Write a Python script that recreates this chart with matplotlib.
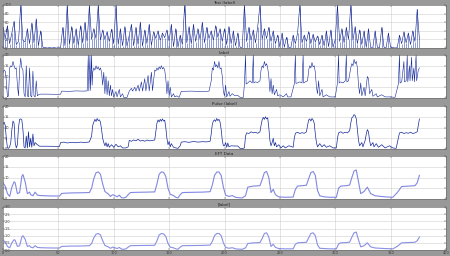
import matplotlib
matplotlib.use('Agg')
import matplotlib.pyplot as plt
import numpy as np

# panel titles (tiny in the reference, best guess)
titles = ["Test (label)", "Label", "Pulse (label)", "EFT Data", "[label]"]

# ---- panel 1: dense spikes, sampled every 2 units ----
test_y = [48, 22, 52, 10, 35,
          62, 8, 15, 100,
          18, 14, 45,
          10, 58, 12, 68, 5, 40,
          2, 1, 0, 1, 0, 1, 0, 0, 1,
          48, 5, 100, 8, 50, 10, 45, 6,
          52, 12, 60, 15, 100,
          20, 45, 22, 100, 18, 42, 20, 38, 15, 44,
          10, 100, 8, 45, 5, 50, 4, 30,
          55, 5, 48, 8, 60, 4, 42, 10, 55, 6, 38,
          22, 40, 18, 35, 24, 42, 16,
          55, 3, 45, 2, 30,
          8, 100, 12, 50, 10,
          55, 15, 45, 20, 60, 12, 48, 22, 40, 18, 52, 25, 45, 15,
          45, 8, 50, 10, 40, 5, 35,
          2, 1,
          100,
          15, 48, 18, 42, 12, 50, 100, 20, 45, 22, 48, 15, 40, 10,
          30, 3, 35, 2, 25, 1, 2,
          30, 10, 35, 100, 12, 30, 15, 38, 10, 32, 14, 28, 8, 30,
          5, 40, 3, 42, 2, 20,
          100, 15, 45, 12, 48, 20, 100, 18, 50, 10, 42, 8, 40,
          2, 45, 1, 2, 40, 2, 1, 48, 2, 1, 35, 2,
          1, 0, 1,
          30, 10, 38, 12, 35, 8, 40, 15, 90, 20]
test_x = np.arange(len(test_y)) * 2

# ---- panel 2 ----
label_x = [0, 1, 2, 3, 4, 5, 6, 7, 8, 9, 10, 11, 12, 13, 14, 15, 16, 17, 18, 19,
           20, 21, 22, 23, 24, 25, 26, 27, 28, 29, 30, 31, 32, 34,
           40, 50, 52, 53, 60, 66, 72, 76,
           77, 77.5, 78.5, 79, 80, 80.5,
           81, 82, 83, 84, 85, 86, 87, 88, 89,
           90, 91, 92, 93, 94, 95, 96, 97, 98, 99, 100,
           102, 103, 105, 106, 108, 109, 112,
           114, 116, 117, 119, 120, 122, 123, 125, 126, 128, 129, 131, 132, 134, 135, 137,
           138, 139, 140, 141, 142, 143, 144, 145, 146, 147,
           148, 149, 150, 151, 152, 154, 155, 157, 159,
           161, 170, 180, 186,
           188, 189, 190, 191, 192, 193, 194, 195, 196, 197, 198,
           199, 200, 201, 202, 204, 205, 207, 209, 212, 214, 217,
           218, 219, 219.5, 221, 223, 225, 226, 226.5, 228, 230, 232,
           233, 234, 235, 236, 237, 238, 239, 240,
           241, 242, 243, 244, 245, 247, 248, 250, 253, 256, 257, 260,
           263, 264, 264.5, 266, 268, 270, 271, 271.5, 273, 275,
           276, 277, 278, 279, 280, 281, 282, 283,
           284, 285, 286, 288, 289, 292, 295, 300,
           302, 303, 303.5, 305, 307, 309, 310, 310.5, 312,
           314, 315, 316, 317, 318, 319, 320, 321,
           322, 323, 324, 326, 327, 329, 330, 331, 333, 334, 337, 338, 342, 345, 350, 354,
           357, 358, 358.5, 360, 362, 362.5, 364, 365, 365.5, 367, 367.5, 369, 369.5,
           371, 371.5, 373, 373.5, 375, 376]
label_y = [11.8, 13, 12.5, 8, 0.5, 1, 14, 15, 14.5, 17, 15, 13.5, 14, 6, 1, 13, 18.5, 14, 13, 2,
           0.5, 15, 1, 0.5, 14, 1, 0.5, 12.5, 1, 0.5, 8, 1, 1.5, 1.8,
           1.8, 1.7, 1.8, 3.2, 3.1, 3.3, 3.2, 3.3,
           20, 3.3, 20, 3.5, 20, 6,
           12, 14, 13, 15, 13.5, 14.5, 13, 14, 12,
           6, 12, 2, 10, 1.5, 8, 1, 6, 1, 4, 0.5,
           3, 0.5, 4, 0.5, 2, 0.3, 0.3,
           3.2, 4.5, 3.2, 5, 3.2, 6, 3.2, 7.5, 3.2, 9, 3.3, 10.5, 3.3, 12, 3.4, 13,
           12.5, 14, 13, 14.5, 13.5, 15, 13.5, 14.2, 13, 9,
           2, 8, 1, 5, 0.5, 2, 0.5, 1, 0.3,
           3.1, 3.2, 3.0, 3.2,
           8, 14, 13, 17, 14.5, 15.5, 14, 17, 13.5, 14, 10,
           3, 1, 6, 0.5, 3, 0.8, 2, 1.2, 1.2, 0.3, 0.3,
           6.5, 20, 6.5, 7, 8, 7, 20, 7, 7.5, 7.2, 8,
           13, 15, 14, 17, 15, 16, 14, 10,
           3, 9, 2, 6, 1.5, 4, 1, 1.5, 0.5, 2, 0.5, 0.5,
           6.5, 20, 6.8, 7, 7.5, 7, 20, 7, 7.5, 8,
           13, 15, 14, 16.5, 14.5, 15, 12, 5,
           2, 8, 1, 4, 0.5, 1.5, 0.5, 0.5,
           7, 20, 7, 7.5, 7, 8, 20, 7.5, 8,
           14, 16, 15, 18, 16, 17, 14, 6,
           2, 7, 1, 5, 1, 10, 9, 2, 4, 0.8, 2, 0.5, 1.5, 0.5, 0.5, 0.3,
           6.5, 20, 7, 7.5, 17, 7.5, 8, 20, 7.5, 15, 8, 19, 8,
           14, 7.5, 20, 8, 13, 14]

# ---- panel 3 ----
pulse_x = [0, 1, 2, 3, 4, 5, 6, 7, 8, 9, 10, 11, 12, 13, 14, 15, 16, 17, 18, 19,
           20, 21, 22, 23, 24, 25, 26, 27, 28, 29, 31, 33, 38, 51,
           52, 55, 58, 62, 66, 70, 74, 78,
           80, 81, 82, 83, 84, 85, 86, 87, 88, 89, 90,
           91, 92, 93, 94, 95, 96, 98, 100, 102, 104, 106, 108, 111, 113,
           114, 116, 118, 120, 122, 124, 126, 128, 130, 132, 135, 137,
           138, 139, 140, 141, 142, 143, 144, 145, 146, 147, 148,
           149, 150, 151, 152, 154, 156, 158, 160,
           161, 164, 168, 172, 176, 180, 184, 187,
           188, 189, 190, 191, 192, 193, 194, 195, 196, 197, 198, 199,
           200, 201, 202, 203, 204, 206, 209, 212, 214, 216, 218,
           219, 220, 222, 224, 226, 228, 230, 232,
           233, 234, 235, 236, 237, 238, 239, 240, 241,
           242, 243, 244, 245, 246, 247, 249, 251, 253, 255, 258, 260, 262,
           263, 264, 266, 268, 270, 272, 274,
           275, 276, 277, 278, 279, 280, 281, 282, 283,
           284, 286, 288, 290, 292, 295, 298, 301,
           302, 303, 305, 307, 309, 311, 313,
           314, 315, 316, 317, 318, 319, 320, 321,
           322, 324, 325, 327, 328, 329, 330, 331, 332, 334, 335, 337, 339, 342, 345, 349, 352, 355,
           357, 358, 360, 362, 364, 366, 368, 370, 372, 374, 375, 376]
pulse_y = [11.5, 12.5, 11, 5, 0.5, 0.3, 1, 3, 9, 13, 12, 3, 0.5, 2, 10, 13.8, 14, 13.5, 9, 1,
           0.5, 6, 0.5, 8, 1, 5, 0.8, 7, 1.5, 3, 2, 1.3, 1.3, 1.2,
           3, 3.2, 2.8, 3.1, 2.9, 3.2, 3.0, 3.3,
           6, 11, 12.5, 13.8, 12.8, 14.2, 13.2, 13.6, 12.5, 9, 5,
           3, 1.5, 3, 1, 2.5, 0.8, 2, 0.8, 2.2, 1, 1.5, 0.5, 0.5, 1,
           4, 3.6, 4.2, 3.8, 4.5, 3.7, 4.0, 3.6, 4.2, 3.8, 4.0, 4.2,
           8, 12, 13.5, 12.6, 13.8, 12.9, 14, 13, 13.4, 10, 5,
           2, 3.5, 1, 2.5, 0.8, 0.5, 0.3, 1.5,
           3.2, 3.4, 3.1, 3.5, 3.2, 3.4, 3.3, 3.6,
           7, 11.5, 13, 13.6, 12.8, 14.2, 13.2, 13.8, 12.5, 9, 4, 1.5,
           1.5, 3, 0.8, 2.8, 1, 1.5, 1.4, 1.4, 0.3, 0.2, 0.5,
           6, 7.5, 7.2, 8, 7.5, 7.8, 7.3, 8,
           11, 13.5, 14.7, 13.8, 15, 14, 14.5, 10, 4,
           1.5, 3, 5, 1.5, 3, 1, 2, 0.5, 1.5, 0.5, 1.5, 1.2, 0.8,
           5, 7.3, 7.8, 7.2, 7.6, 7.3, 8,
           11, 13.5, 14, 13, 14.2, 13.5, 12, 7, 3,
           1, 2.5, 1, 2, 0.8, 1.5, 0.5, 0.5,
           5, 7.5, 8, 7.3, 7.8, 7.5, 8.5,
           12, 14.5, 15, 16, 15.5, 14, 9, 4,
           1.5, 3, 1, 4, 7, 9, 8, 4, 1.5, 3, 1, 2.5, 0.8, 2, 0.5, 1.5, 0.5, 0.3,
           5, 7.5, 7.8, 7.2, 7.6, 7.3, 7.8, 7.2, 7.5, 8, 11, 14]

# ---- panels 4 and 5: smooth curves on the same x ----
eft_x = [0, 2, 4, 6, 8, 10, 11, 13, 15, 17, 18, 20, 22, 24, 25, 27, 29, 31, 34, 38, 45, 51,
         53, 60, 70, 78, 80, 82, 84, 86, 88, 90, 92, 95, 97, 99, 101, 103, 105, 107, 109, 111, 113,
         115, 120, 130, 137, 139, 141, 143, 145, 147, 149, 151, 154, 156, 158, 160,
         162, 170, 180, 187, 189, 191, 193, 195, 197, 199, 201, 204, 207, 210, 213, 216, 219,
         221, 226, 232, 234, 236, 238, 240, 242, 244, 246, 249, 255, 262,
         264, 266, 270, 274, 276, 278, 280, 282, 284, 286, 290, 295, 301,
         303, 305, 310, 313, 315, 317, 319, 321, 323, 326, 329, 332, 336, 345, 352,
         356, 360, 366, 372, 374, 376]
eft_y = [7.5, 6.0, 2.5, 1.2, 5.5, 8.0, 7.5, 2.5, 3.0, 10.5, 11.4, 8.0, 2.5, 3.2, 2.0, 1.5, 3.2, 1.8, 1.6, 1.5, 1.4, 1.4,
         2.6, 2.8, 2.9, 3.0, 5.0, 9.5, 12.2, 12.6, 11.5, 7.0, 3.5, 2.4, 1.2, 2.0, 1.6, 1.0, 1.8, 0.6, 0.5, 0.8, 2.0,
         3.0, 3.1, 3.2, 3.3, 7.0, 11.5, 12.6, 12.4, 10.5, 5.0, 2.2, 1.6, 0.8, 0.5, 2.0,
         3.0, 3.1, 3.2, 3.4, 6.5, 11.0, 12.5, 12.6, 11.0, 5.5, 1.8, 1.2, 1.6, 0.8, 0.6, 0.5, 1.5,
         5.5, 6.0, 6.2, 9.0, 12.3, 12.8, 10.0, 3.0, 4.5, 2.0, 1.0, 0.8, 0.9,
         4.5, 6.0, 6.2, 6.4, 9.5, 12.3, 12.8, 11.0, 4.0, 1.5, 1.0, 0.8, 0.8,
         5.0, 6.0, 6.2, 6.5, 10.0, 13.0, 13.5, 8.0, 2.5, 3.5, 5.5, 2.5, 1.5, 1.0, 0.8,
         3.0, 5.8, 6.0, 6.2, 7.5, 11.0]
last_y = [0.7, 0.55, 0.25, 0.15, 0.5, 0.72, 0.68, 0.25, 0.3, 0.9, 1.0, 0.75, 0.25, 0.3, 0.2, 0.15, 0.3, 0.18, 0.16, 0.15, 0.14, 0.14,
          0.25, 0.27, 0.28, 0.3, 0.45, 0.85, 1.1, 1.15, 1.05, 0.65, 0.32, 0.22, 0.12, 0.2, 0.16, 0.1, 0.18, 0.06, 0.05, 0.08, 0.2,
          0.3, 0.31, 0.32, 0.33, 0.65, 1.05, 1.15, 1.12, 0.95, 0.45, 0.2, 0.15, 0.08, 0.05, 0.2,
          0.3, 0.31, 0.32, 0.34, 0.6, 1.0, 1.15, 1.15, 1.0, 0.5, 0.18, 0.12, 0.16, 0.08, 0.06, 0.05, 0.15,
          0.45, 0.5, 0.52, 0.8, 1.15, 1.2, 0.9, 0.25, 0.4, 0.18, 0.1, 0.08, 0.08,
          0.4, 0.5, 0.52, 0.54, 0.85, 1.15, 1.2, 1.0, 0.35, 0.12, 0.1, 0.08, 0.08,
          0.42, 0.5, 0.52, 0.55, 0.9, 1.2, 1.25, 0.7, 0.22, 0.3, 0.5, 0.22, 0.14, 0.1, 0.08,
          0.25, 0.5, 0.52, 0.54, 0.65, 0.9]

series = [(test_x, test_y), (label_x, label_y), (pulse_x, pulse_y), (eft_x, eft_y), (eft_x, last_y)]
ylims = [100, 20, 20, 20, 3]
yticks = [np.arange(0, 101, 20), np.arange(0, 21, 5), np.arange(0, 21, 5),
          np.arange(0, 21, 5), np.arange(0, 3.01, 0.5)]
colors = ['#0d1f8c', '#14289a', '#14289a', '#8288e0', '#8a90e4']
widths = [0.4, 0.4, 0.5, 0.8, 0.8]

fig = plt.figure(figsize=(4.5, 2.56), dpi=100, facecolor='#999999')
tops = [5, 55, 106, 156, 207]
for i in range(5):
    ax = fig.add_axes([3 / 450, 1 - (tops[i] + 43) / 256, 443 / 450, 43 / 256])
    ax.set_facecolor('white')
    x, y = series[i]
    if i == 0:
        # spiky signal: comb of vertical strokes plus the trace itself
        ax.vlines(x, 0, y, color='#3a4fb5', lw=0.5, alpha=0.8)
    ax.plot(x, y, color=colors[i], lw=widths[i])
    ax.set_xlim(0, 400)
    ax.set_ylim(0, ylims[i])
    ax.set_xticks(np.arange(0, 401, 50))
    ax.set_yticks(yticks[i])
    ax.grid(True, color='#d0d0d0', lw=0.4)
    ax.tick_params(direction='in', length=1.5, width=0.3, labelsize=2.5,
                   colors='#333333', right=True, top=True)
    ax.tick_params(axis='y', pad=-1)
    for lbl in ax.get_yticklabels():
        lbl.set_ha('left')
    if i < 4:
        ax.tick_params(labelbottom=False)
    else:
        ax.tick_params(axis='x', pad=0.5)
    for s in ax.spines.values():
        s.set_color('#666666')
        s.set_linewidth(0.4)
    ax.set_title(titles[i], fontsize=3, color='#222222', pad=1)

plt.savefig('out.png', dpi=100, facecolor=fig.get_facecolor())
